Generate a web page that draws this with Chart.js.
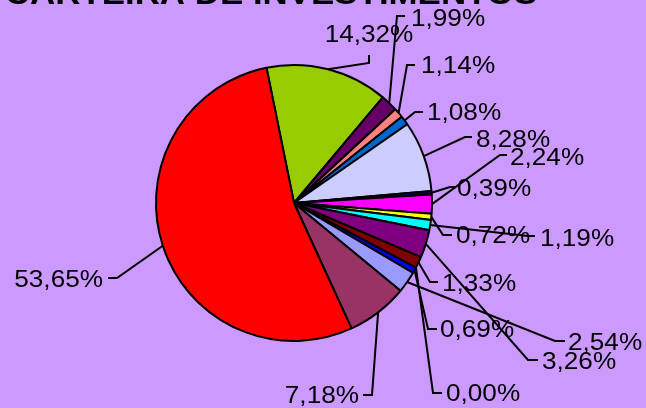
<!DOCTYPE html>
<html>
<head>
<meta charset="utf-8">
<script src="https://cdn.jsdelivr.net/npm/chart.js@4/dist/chart.umd.min.js"></script>
<style>
  html, body { margin: 0; padding: 0; background: #CC99FF; }
  #wrap { width: 646px; height: 408px; }
</style>
</head>
<body>
<div id="wrap"><canvas id="c" width="646" height="408"></canvas></div>
<script>
// ---- data ----
const chartTitle = "CARTEIRA DE INVESTIMENTOS";
const categories = ["S4","S5","S6","S7","S8","S9","S10","S11","S12","S13","S14","S15","S16","S1","S2","S3"];
const values = [14.32, 1.99, 1.14, 1.08, 8.28, 0.39, 2.24, 0.72, 1.19, 3.26, 1.33, 0.00, 0.69, 2.54, 7.18, 53.65];
const sliceColors = ['#99CC00','#660066','#FF8080','#0066CC','#CCCCFF','#000080','#FF00FF','#FFFF00',
                     '#00FFFF','#800080','#800000','#008080','#0000FF','#9999FF','#993366','#FF0000'];

// label layout (leader elbow points + text anchor), one per slice
const labelLayout = [
  { pts: [[369,63],[369,55]],   tx: 369, ty: 42,  align: 'center' },
  { pts: [[397,16],[405,16]],   tx: 411, ty: 26,  align: 'left' },
  { pts: [[407,65],[415,65]],   tx: 421, ty: 73,  align: 'left' },
  { pts: [[415,112],[423,112]], tx: 427, ty: 120, align: 'left' },
  { pts: [[465,137],[472,137]], tx: 476, ty: 147, align: 'left' },
  { pts: [[450,187],[455,187]], tx: 457, ty: 196, align: 'left' },
  { pts: [[500,155],[507,155]], tx: 510, ty: 165, align: 'left' },
  { pts: [[443,235],[452,235]], tx: 456, ty: 243, align: 'left' },
  { pts: [[528,236],[535,236]], tx: 540, ty: 246, align: 'left' },
  { pts: [[528,360],[538,360]], tx: 542, ty: 369, align: 'left' },
  { pts: [[430,282],[438,282]], tx: 442, ty: 291, align: 'left' },
  { pts: [[433,393],[442,393]], tx: 446, ty: 401, align: 'left' },
  { pts: [[428,329],[437,329]], tx: 440, ty: 337, align: 'left' },
  { pts: [[555,341],[565,341]], tx: 568, ty: 350, align: 'left' },
  { pts: [[372,395],[363,395]], tx: 359, ty: 403, align: 'right' },
  { pts: [[117,278],[108,278]], tx: 103, ty: 287, align: 'right' }
];

const FONT = '"Liberation Sans", Arial, sans-serif';
const XSCALE = 1.09;

function fmt(v) { return v.toFixed(2).replace('.', ',') + '%'; }

const bgPlugin = {
  id: 'bg',
  beforeDraw(chart) {
    const ctx = chart.ctx;
    ctx.save();
    ctx.fillStyle = '#CC99FF';
    ctx.fillRect(0, 0, chart.width, chart.height);
    ctx.restore();
  }
};

const labelPlugin = {
  id: 'pieLabels',
  afterDraw(chart) {
    const ctx = chart.ctx;
    const meta = chart.getDatasetMeta(0);
    ctx.save();
    // title
    ctx.fillStyle = '#000';
    ctx.font = 'bold 32px ' + FONT;
    ctx.textAlign = 'center';
    ctx.textBaseline = 'alphabetic';
    ctx.save();
    ctx.translate(271, 4);
    ctx.scale(XSCALE, 1);
    ctx.fillText(chartTitle, 0, 0);
    ctx.restore();

    ctx.strokeStyle = '#000';
    ctx.lineWidth = 2;
    ctx.lineJoin = 'miter';
    meta.data.forEach((arc, i) => {
      const p = arc.getProps(['x','y','startAngle','endAngle','outerRadius'], true);
      const mid = (p.startAngle + p.endAngle) / 2;
      const rx = p.x + Math.cos(mid) * p.outerRadius;
      const ry = p.y + Math.sin(mid) * p.outerRadius;
      const L = labelLayout[i];
      ctx.beginPath();
      ctx.moveTo(rx, ry);
      L.pts.forEach(q => ctx.lineTo(q[0], q[1]));
      ctx.stroke();
    });
    ctx.font = '24px ' + FONT;
    ctx.fillStyle = '#000';
    values.forEach((v, i) => {
      const L = labelLayout[i];
      ctx.save();
      ctx.translate(L.tx, L.ty);
      ctx.scale(XSCALE, 1);
      ctx.textAlign = L.align;
      ctx.fillText(fmt(v), 0, 0);
      ctx.restore();
    });
    ctx.restore();
  }
};

new Chart(document.getElementById('c'), {
  type: 'pie',
  data: {
    labels: categories,
    datasets: [{
      data: values,
      backgroundColor: sliceColors,
      borderColor: '#000000',
      borderWidth: 2
    }]
  },
  options: {
    responsive: false,
    animation: false,
    rotation: -11.5,
    layout: { padding: { left: 155, top: 64, right: 213, bottom: 66 } },
    plugins: {
      legend: { display: false },
      tooltip: { enabled: false },
      title: { display: false }
    }
  },
  plugins: [bgPlugin, labelPlugin]
});
</script>
</body>
</html>
